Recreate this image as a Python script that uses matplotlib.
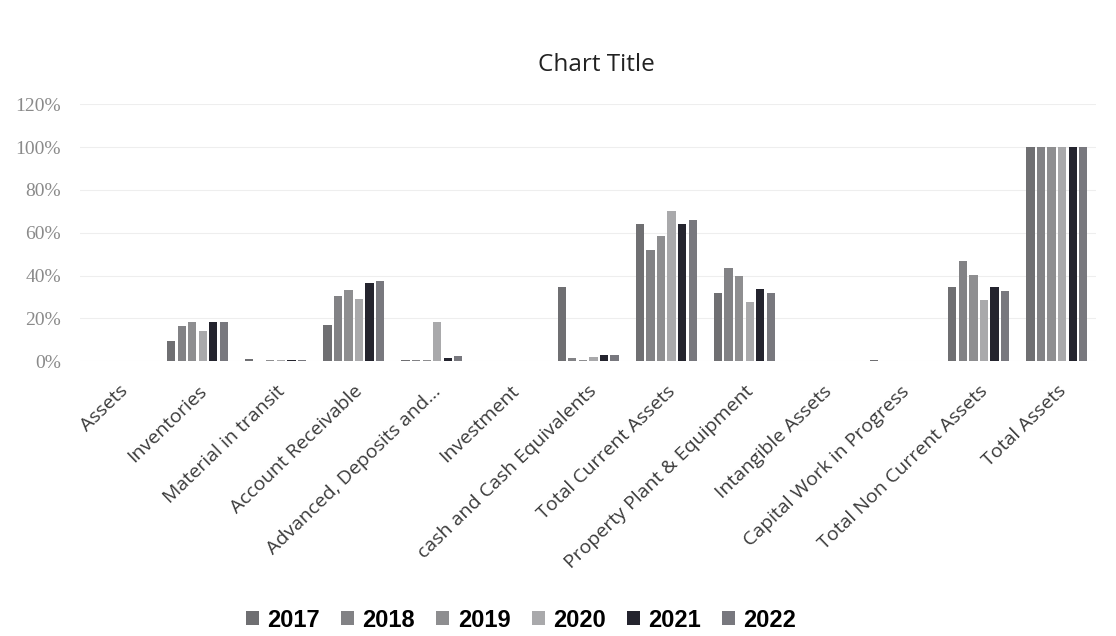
import numpy as np
import matplotlib
matplotlib.use("Agg")
from matplotlib import pyplot as plt
from matplotlib.ticker import PercentFormatter

categories = ["Assets", "Inventories", "Material in transit", "Account Receivable",
              "Advanced, Deposits and...", "Investment", "cash and Cash Equivalents",
              "Total Current Assets", "Property Plant & Equipment", "Intangible Assets",
              "Capital Work in Progress", "Total Non Current Assets", "Total Assets"]

years = ["2017", "2018", "2019", "2020", "2021", "2022"]

# share of total assets (%), one list per year, in category order
y2017 = [0, 9.4, 1.2, 16.8, 0.4, 0, 34.6, 64.0, 31.7, 0, 0.8, 34.5, 100]
y2018 = [0, 16.5, 0.3, 30.3, 0.5, 0, 1.5, 52.0, 43.7, 0, 0, 47.0, 100]
y2019 = [0, 18.4, 0.5, 33.3, 0.5, 0, 0.5, 58.5, 39.8, 0, 0, 40.5, 100]
y2020 = [0, 14.0, 0.8, 29.1, 18.5, 0, 2.0, 70.0, 27.5, 0, 0, 28.5, 100]
y2021 = [0, 18.5, 0.8, 36.5, 1.5, 0, 3.0, 64.0, 33.8, 0, 0, 34.5, 100]
y2022 = [0, 18.5, 0.7, 37.4, 2.3, 0, 3.0, 66.0, 31.9, 0, 0, 33.0, 100]

series = [y2017, y2018, y2019, y2020, y2021, y2022]
colors = ["#6f6f72", "#828285", "#8e8e90", "#a9a9ab", "#24242e", "#78787e"]

fig, ax = plt.subplots(figsize=(11.16, 6.36), dpi=100)
fig.subplots_adjust(left=0.072, right=0.982, top=0.836, bottom=0.432)

x = np.arange(len(categories))
step = 0.135
for i, (vals, c) in enumerate(zip(series, colors)):
    ax.bar(x + (i - 2.5) * step, vals, width=step * 0.78, color=c, label=years[i])

ax.set_xlim(-0.5, len(categories) - 0.5)
ax.set_ylim(0, 120)
ax.set_yticks(np.arange(0, 121, 20))
ax.yaxis.set_major_formatter(PercentFormatter(decimals=0))
ax.tick_params(axis="y", length=0, labelsize=14, labelcolor="#8a8a8a", pad=14)
for lbl in ax.get_yticklabels():
    lbl.set_family("Liberation Serif")
ax.grid(axis="y", color="#eeeeee", linewidth=0.8)
ax.set_axisbelow(True)
for s in ax.spines.values():
    s.set_visible(False)

ax.set_xticks(x)
ax.set_xticklabels(categories, rotation=44, ha="right", rotation_mode="anchor",
                   family="Open Sans", fontsize=14, color="#3a3a3a")
ax.tick_params(axis="x", length=0, pad=15)

ax.set_title("Chart Title", family="Open Sans", fontsize=17.5, color="#222222",
             pad=24, x=0.508)

fig.legend(loc="center", bbox_to_anchor=(0.467, 0.025), ncol=6, frameon=False,
           prop={"family": "Liberation Sans", "weight": "bold", "size": 17},
           handlelength=0.55, handleheight=0.55, handletextpad=0.35, columnspacing=0.9)

fig.savefig("out.png")
